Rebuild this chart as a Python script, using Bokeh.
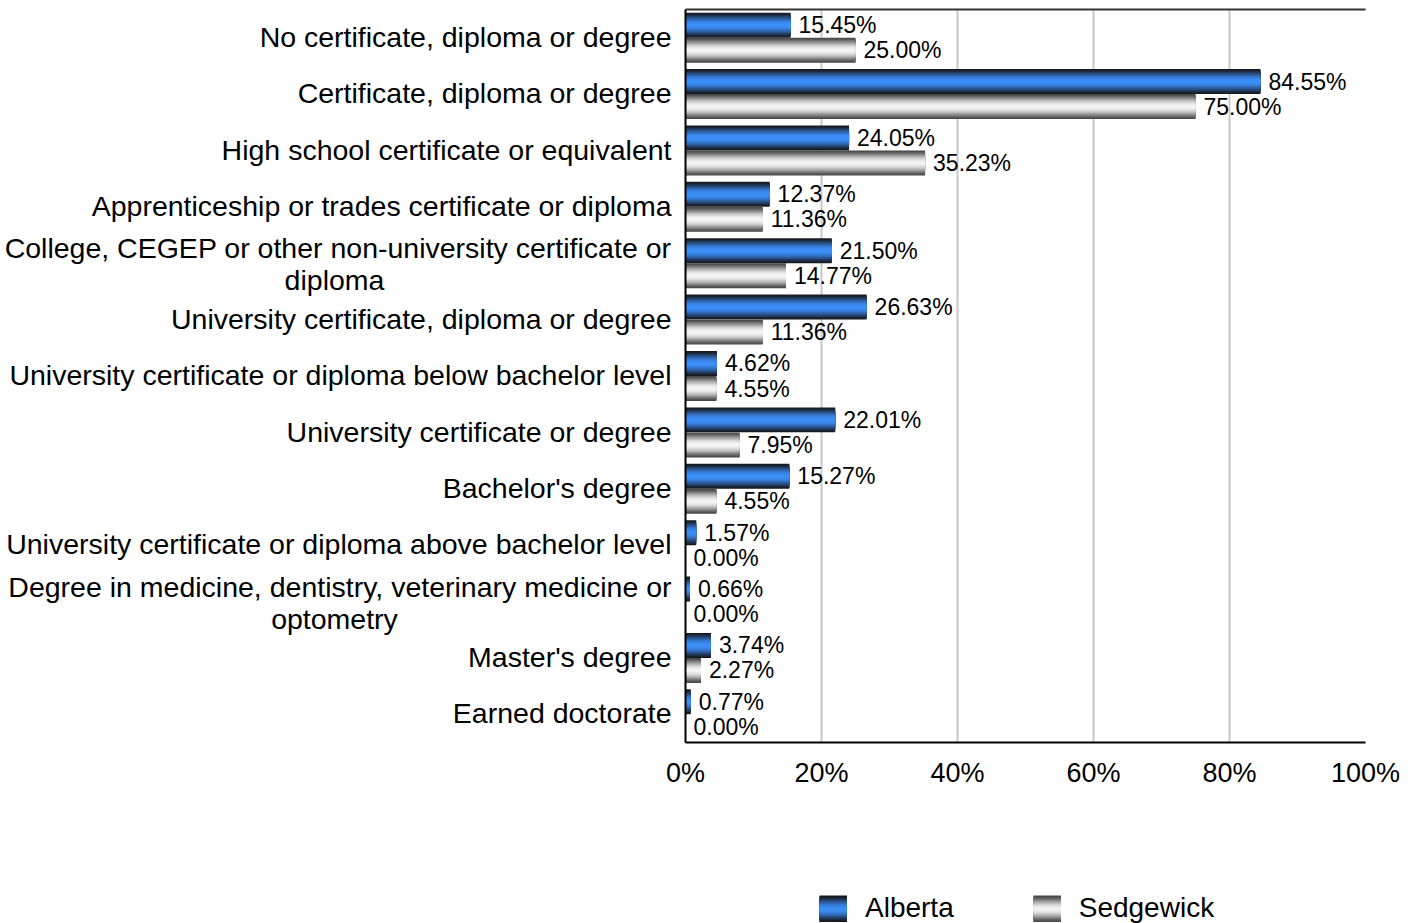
from bokeh.plotting import figure
from bokeh.layouts import row, column
from bokeh.models import (Range1d, FixedTicker, LinearAxis, Legend,
                          LegendItem, ColumnDataSource)
from bokeh.transform import dodge
from bokeh.core.properties import value
from bokeh.embed import file_html
from bokeh.resources import INLINE

# ---------------- data ----------------
categories = [
    "No certificate, diploma or degree",
    "Certificate, diploma or degree",
    "High school certificate or equivalent",
    "Apprenticeship or trades certificate or diploma",
    "College, CEGEP or other non-university certificate or\ndiploma",
    "University certificate, diploma or degree",
    "University certificate or diploma below bachelor level",
    "University certificate or degree",
    "Bachelor's degree",
    "University certificate or diploma above bachelor level",
    "Degree in medicine, dentistry, veterinary medicine or\noptometry",
    "Master's degree",
    "Earned doctorate",
]
alberta = [15.45, 84.55, 24.05, 12.37, 21.50, 26.63, 4.62, 22.01, 15.27, 1.57, 0.66, 3.74, 0.77]
sedgewick = [25.00, 75.00, 35.23, 11.36, 14.77, 11.36, 4.55, 7.95, 4.55, 0.00, 0.00, 2.27, 0.00]
series_names = ["Alberta", "Sedgewick"]
x_ticks = [0, 20, 40, 60, 80, 100]
x_tick_labels = ["0%", "20%", "40%", "60%", "80%", "100%"]

# ---------------- layout / style ----------------
FONT = "Liberation Sans"
n = len(categories)
ypos = [n - 1 - i for i in range(n)]

TOTAL_W, TOTAL_H = 1412, 923
FRAME_L, FRAME_R, FRAME_T, FRAME_B = 685, 1365, 9, 742
H1 = FRAME_B + 4
H2 = TOTAL_H - H1
LEFT_W = 679
MAIN_W = TOTAL_W - LEFT_W

y_range = Range1d(-0.5, n - 0.5)
x_range = Range1d(0, 100)

src = ColumnDataSource(dict(
    y=ypos,
    alberta=alberta,
    sedgewick=sedgewick,
    alab=[f"{v:.2f}%" for v in alberta],
    slab=[f"{v:.2f}%" for v in sedgewick],
))


def bare(fig):
    fig.outline_line_color = None
    fig.background_fill_color = "white"
    fig.border_fill_color = "white"
    fig.xgrid.visible = False
    fig.ygrid.visible = False


def plain_axis(ticks, color):
    ax = LinearAxis(ticker=FixedTicker(ticks=ticks))
    ax.axis_line_color = color
    ax.axis_line_width = 2
    ax.major_tick_line_color = None
    ax.minor_tick_line_color = None
    ax.major_tick_out = 0
    ax.major_tick_in = 0
    ax.major_label_standoff = 0
    return ax


# ---------- category label panel ----------
pl = figure(width=LEFT_W, height=H1, output_backend="svg", toolbar_location=None,
            x_range=Range1d(0, 1), y_range=y_range,
            x_axis_location=None, y_axis_location=None,
            min_border_left=0, min_border_right=0,
            min_border_top=FRAME_T, min_border_bottom=H1 - FRAME_B)
bare(pl)

single_y, single_t, l1_y, l1_t, l2_y, l2_t = [], [], [], [], [], []
for yv, cat in zip(ypos, categories):
    parts = cat.split("\n")
    if len(parts) == 1:
        single_y.append(yv); single_t.append(cat)
    else:
        l1_y.append(yv); l1_t.append(parts[0])
        l2_y.append(yv); l2_t.append(parts[1])

lab_kw = dict(text_baseline="middle", text_font=value(FONT),
              text_font_size="28.5px", text_color="black")
pl.text(x=1, y=dodge("y", 0.015, range=y_range), text="t",
        source=ColumnDataSource(dict(y=single_y, t=single_t)),
        x_offset=-8, text_align="right", **lab_kw)
pl.text(x=1, y=dodge("y", 0.266, range=y_range), text="t",
        source=ColumnDataSource(dict(y=l1_y, t=l1_t)),
        x_offset=-8, text_align="right", **lab_kw)
pl.text(x=1, y=dodge("y", -0.301, range=y_range), text="t",
        source=ColumnDataSource(dict(y=l2_y, t=l2_t)),
        x_offset=-345, text_align="center", **lab_kw)

# ---------- main chart ----------
p = figure(width=MAIN_W, height=H1, output_backend="svg", toolbar_location=None,
           x_range=x_range, y_range=y_range,
           x_axis_location=None, y_axis_location=None,
           min_border_left=FRAME_L - LEFT_W, min_border_right=TOTAL_W - FRAME_R,
           min_border_top=FRAME_T, min_border_bottom=H1 - FRAME_B)
bare(p)
p.xgrid.visible = True
p.xgrid.ticker = FixedTicker(ticks=x_ticks)
p.xgrid.grid_line_color = "#c8c8c8"
p.xgrid.grid_line_width = 2

p.add_layout(plain_axis([], "black"), "below")
p.add_layout(plain_axis([], "black"), "left")
p.add_layout(plain_axis([], "#333333"), "above")


def mix(c0, c1, f):
    return "#%02x%02x%02x" % tuple(int(round(a + (b - a) * f)) for a, b in zip(c0, c1))


def prof(t):
    return (1 - t * t) ** 1.6


palettes = {
    "alberta": ((22, 22, 26), (60, 143, 250)),
    "sedgewick": ((70, 70, 70), (244, 244, 244)),
}
offsets = {"alberta": 0.222, "sedgewick": -0.222}
BAR_H = 0.443
NL = 13
for key in ["alberta", "sedgewick"]:
    edge, mid = palettes[key]
    for j in range(NL):
        frac = 1 - j / NL          # nested layer, full height first
        t = frac - 0.5 / NL
        p.hbar(y=dodge("y", offsets[key], range=y_range), left=0, right=key,
               height=BAR_H * frac, source=src, fill_color=mix(edge, mid, prof(t)),
               line_color=None)

val_kw = dict(source=src, x_offset=8, text_baseline="middle", text_align="left",
              text_font=value(FONT), text_font_size="23px", text_color="black")
p.text(x="alberta", y=dodge("y", offsets["alberta"], range=y_range), text="alab", **val_kw)
p.text(x="sedgewick", y=dodge("y", offsets["sedgewick"], range=y_range), text="slab", **val_kw)

# ---------- tick labels + legend panel ----------
AX_TOP = 50
pg = figure(width=TOTAL_W, height=H2, output_backend="svg", toolbar_location=None,
            x_range=x_range, y_range=Range1d(0, 1),
            x_axis_location=None, y_axis_location=None,
            min_border_left=FRAME_L, min_border_right=TOTAL_W - FRAME_R,
            min_border_top=AX_TOP, min_border_bottom=0)
bare(pg)

xaxis = LinearAxis(ticker=FixedTicker(ticks=x_ticks),
                   major_label_overrides={t: l for t, l in zip(x_ticks, x_tick_labels)})
xaxis.axis_line_color = None
xaxis.major_tick_line_color = None
xaxis.minor_tick_line_color = None
xaxis.major_tick_out = 0
xaxis.major_tick_in = 0
xaxis.major_label_text_font = FONT
xaxis.major_label_text_font_size = "27px"
xaxis.major_label_text_color = "black"
xaxis.major_label_standoff = 9
pg.add_layout(xaxis, "above")

items = []
widths = [27, 25, 23, 21, 19, 17, 15, 13, 11, 9, 7, 5, 3]
nan = float("nan")
for key, name in zip(["alberta", "sedgewick"], series_names):
    edge, mid = palettes[key]
    rends = []
    for w in widths:
        rends.append(pg.line(x=[nan], y=[nan], line_width=w,
                             line_color=mix(edge, mid, prof(w / 27.0))))
    items.append(LegendItem(label=name, renderers=rends))

legend = Legend(items=items, orientation="horizontal", location=(819 - FRAME_L, -1),
                glyph_width=28, glyph_height=27, label_standoff=18, spacing=79,
                padding=0, margin=0, border_line_color=None,
                background_fill_alpha=0, label_text_font=FONT,
                label_text_font_size="28px", label_text_color="black")
pg.add_layout(legend)

layout = column(row(pl, p), pg)
open("out.html", "w").write(file_html(layout, INLINE))
